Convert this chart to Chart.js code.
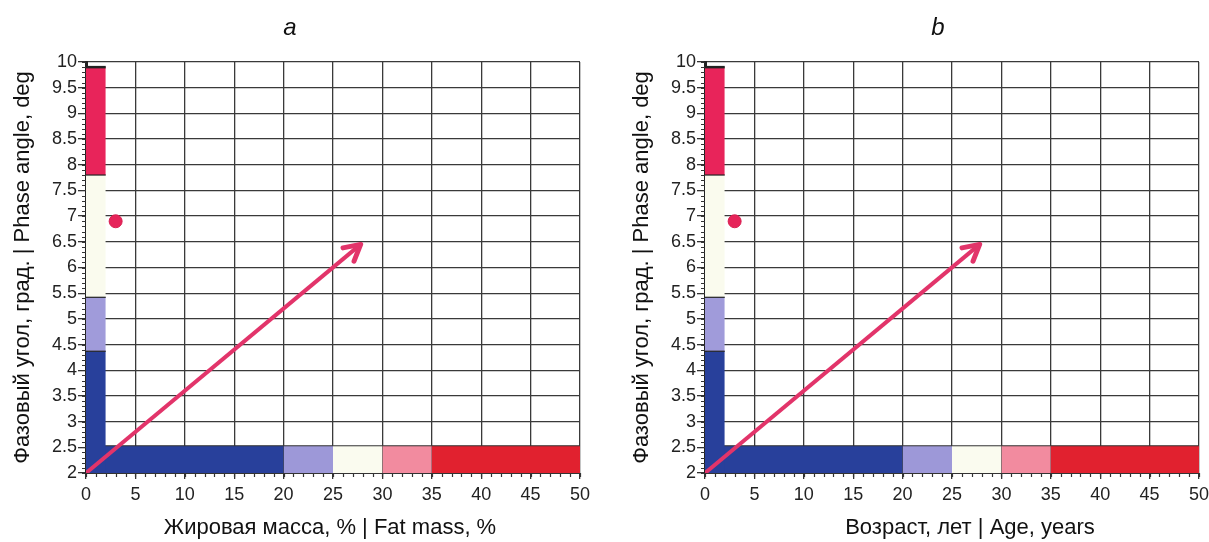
<!DOCTYPE html>
<html><head><meta charset="utf-8">
<script src="https://cdn.jsdelivr.net/npm/chart.js@4"></script>
<style>
html,body{margin:0;padding:0;background:#fff;width:1209px;height:542px;overflow:hidden;position:relative;}
.panel{position:absolute;top:0;width:590px;height:542px;}
.cap{position:absolute;top:13px;font:italic 24px 'Liberation Sans Narrow','Liberation Sans',Arial,sans-serif;color:#111;transform:translateX(-50%);}
.xt{position:absolute;top:514px;white-space:nowrap;font:22px 'Liberation Sans',Arial,sans-serif;color:#111;transform:translateX(-50%);}
</style></head>
<body>
<div class="panel" style="left:0"><canvas id="cA" width="590" height="542"></canvas></div>
<div class="panel" style="left:619px"><canvas id="cB" width="590" height="542"></canvas></div>
<div class="cap" style="left:290px">a</div>
<div class="cap" style="left:938px">b</div>
<div class="xt" id="xtA" style="left:330px"></div>
<div class="xt" id="xtB" style="left:970px"></div>
<script>
// ---- data ----
const panelLabels = ['a', 'b'];
const xAxisTitles = ['Жировая масса, % | Fat mass, %', 'Возраст, лет | Age, years'];
const yAxisTitle = 'Фазовый угол, град. | Phase angle, deg';
const xTicks = [0, 5, 10, 15, 20, 25, 30, 35, 40, 45, 50];
const yTicks = [2, 2.5, 3, 3.5, 4, 4.5, 5, 5.5, 6, 6.5, 7, 7.5, 8, 8.5, 9, 9.5, 10];
const bottomBandEdges = [0, 20, 25, 30, 35, 50];   // x-ranges of the bottom scale bar
const bottomBandRange = [2, 2.53];                  // y-range of the bottom scale bar
const sideBandEdges = [2, 4.37, 5.42, 7.8, 9.9];    // y-ranges of the side scale bar
const sideBandRange = [0, 2];                       // x-range of the side scale bar
const patientPoint = [{x: 3, y: 6.9}];
const trendArrow = [{x: 0, y: 2}, {x: 27.8, y: 6.45}];

// ---- styles ----
const bottomColors = ['#28409b', '#9d98d8', '#fafbef', '#f28b9f', '#e1212f'];
const sideColors = ['#28409b', '#a09bda', '#fafbee', '#e8245a'];
const FONT = "'Liberation Sans', Arial, sans-serif";
const ARROW = '#e2346a';

document.getElementById('xtA').textContent = xAxisTitles[0];
document.getElementById('xtB').textContent = xAxisTitles[1];

function buildDatasets() {
  const ds = [];
  ds.push({type: 'line', data: trendArrow, borderColor: ARROW, borderWidth: 4,
    pointRadius: 0, fill: false, order: 0, tension: 0});
  ds.push({type: 'line', data: patientPoint, showLine: false, pointRadius: 6.5,
    pointBackgroundColor: '#e6245a', pointBorderColor: '#d81f50', pointBorderWidth: 1, order: 1});
  for (let i = 0; i < sideBandEdges.length - 1; i++) {
    ds.push({type: 'line',
      data: [{x: sideBandRange[0], y: sideBandEdges[i + 1]}, {x: sideBandRange[1], y: sideBandEdges[i + 1]}],
      fill: {value: sideBandEdges[i]}, backgroundColor: sideColors[i],
      borderColor: '#222', borderWidth: i === sideBandEdges.length - 2 ? 2.5 : 1.2,
      pointRadius: 0, order: 10 + i});
  }
  for (let i = 0; i < bottomBandEdges.length - 1; i++) {
    ds.push({type: 'line',
      data: [{x: bottomBandEdges[i], y: bottomBandRange[1]}, {x: bottomBandEdges[i + 1], y: bottomBandRange[1]}],
      fill: {value: bottomBandRange[0]}, backgroundColor: bottomColors[i],
      borderColor: '#333', borderWidth: 1,
      pointRadius: 0, order: 20 + i});
  }
  return ds;
}

const minorTicks = {
  id: 'minorTicks',
  afterDraw(chart) {
    const ctx = chart.ctx, xs = chart.scales.x, ys = chart.scales.y;
    const a = chart.chartArea;
    ctx.save();
    ctx.strokeStyle = '#333';
    ctx.lineWidth = 1.2;
    ctx.beginPath();
    for (let v = ys.min; v <= ys.max + 1e-9; v += 0.1) {
      const p = Math.round(ys.getPixelForValue(v)) + 0.5;
      ctx.moveTo(a.left - 4, p); ctx.lineTo(a.left, p);
    }
    for (let v = xs.min; v <= xs.max + 1e-9; v += 1) {
      const p = Math.round(xs.getPixelForValue(v)) + 0.5;
      ctx.moveTo(p, a.bottom); ctx.lineTo(p, a.bottom + 4);
    }
    ctx.stroke();
    ctx.restore();
  }
};

const arrowHead = {
  id: 'arrowHead',
  afterDatasetsDraw(chart) {
    const pts = chart.getDatasetMeta(0).data;
    if (pts.length < 2) return;
    const p1 = pts[pts.length - 2], p2 = pts[pts.length - 1];
    const ang = Math.atan2(p2.y - p1.y, p2.x - p1.x);
    const L = 18, spread = 0.5;
    const ctx = chart.ctx;
    ctx.save();
    ctx.strokeStyle = ARROW;
    ctx.lineWidth = 5;
    ctx.lineCap = 'round';
    ctx.lineJoin = 'round';
    ctx.beginPath();
    ctx.moveTo(p2.x - L * Math.cos(ang - spread), p2.y - L * Math.sin(ang - spread));
    ctx.lineTo(p2.x, p2.y);
    ctx.lineTo(p2.x - L * Math.cos(ang + spread), p2.y - L * Math.sin(ang + spread));
    ctx.stroke();
    ctx.restore();
  }
};

function makeChart(id) {
  return new Chart(document.getElementById(id), {
    type: 'line',
    data: {datasets: buildDatasets()},
    plugins: [minorTicks, arrowHead],
    options: {
      responsive: false, animation: false, events: [],
      layout: {padding: {top: 62, right: 10, left: 0, bottom: 0}},
      plugins: {legend: {display: false}, tooltip: {enabled: false}},
      scales: {
        x: {
          type: 'linear', min: 0, max: 50,
          afterBuildTicks: s => { s.ticks = xTicks.map(v => ({value: v})); },
          afterFit: s => { s.height = 69; s.paddingLeft = 0; s.paddingRight = 0; },
          grid: {color: '#3a3a3a', lineWidth: 1.3, tickLength: 6, tickColor: '#333'},
          border: {color: '#333', width: 2},
          ticks: {font: {family: FONT, size: 18}, color: '#222', padding: 5, maxRotation: 0, autoSkip: false,
                  callback: v => String(v)}
        },
        y: {
          type: 'linear', min: 2, max: 10,
          afterBuildTicks: s => { s.ticks = yTicks.map(v => ({value: v})); },
          afterFit: s => { s.width = 86; s.paddingTop = 0; s.paddingBottom = 0; },
          grid: {color: '#3a3a3a', lineWidth: 1.3, tickLength: 8, tickColor: '#333'},
          border: {color: '#222', width: 3},
          ticks: {font: {family: FONT, size: 18}, color: '#222', padding: 1, autoSkip: false,
                  callback: v => String(v)},
          title: {display: true, text: yAxisTitle, font: {family: FONT, size: 22}, color: '#111', padding: {top: 10, bottom: 0}}
        }
      }
    }
  });
}

makeChart('cA');
makeChart('cB');
</script>
</body></html>
